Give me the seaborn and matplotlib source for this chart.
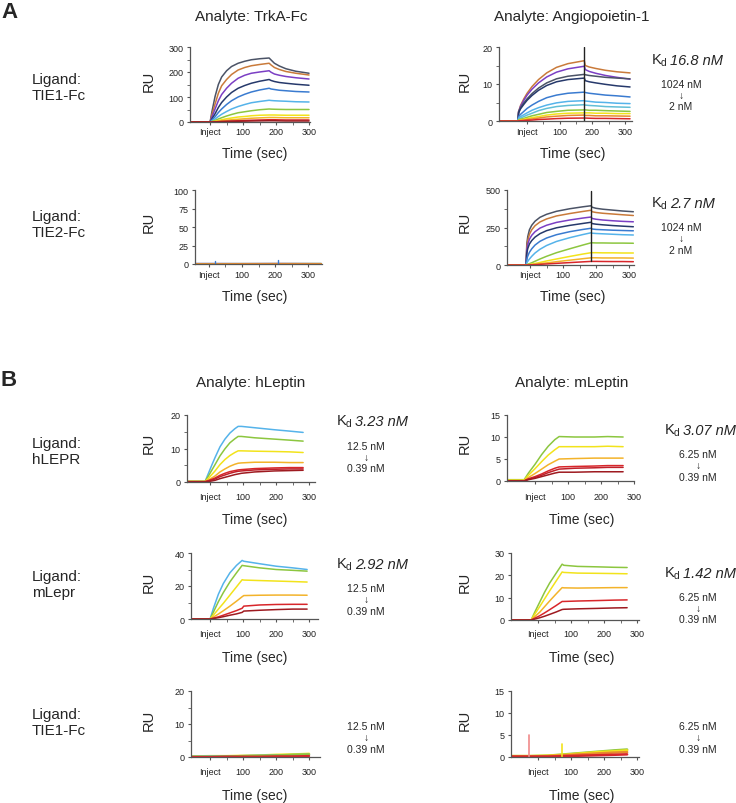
import matplotlib
matplotlib.use("Agg")
import matplotlib.pyplot as plt
import seaborn as sns

# ---------------- data ----------------
# A: TIE1-Fc ligand / TrkA-Fc analyte (1024 -> 2 nM)
t_a1 = [-61, 0, 5, 10, 15, 25, 35, 50, 65, 85, 105, 125, 150, 179,
        185, 195, 210, 230, 260, 300]
a1_curves = [
    [0, 0, 38, 70, 102, 150, 180, 205, 222, 235, 243, 249, 253, 256, 248, 235, 224, 213, 203, 195],
    [0, 0, 27, 50, 72, 115, 145, 170, 190, 208, 218, 225, 230, 235, 228, 218, 210, 202, 195, 188],
    [0, 0, 18, 35, 52, 85, 110, 135, 155, 175, 187, 195, 200, 205, 199, 192, 187, 182, 177, 172],
    [0, 0, 11, 22, 33, 58, 78, 100, 118, 135, 146, 155, 163, 170, 166, 162, 158, 155, 151, 147],
    [0, 0, 7, 14, 21, 38, 52, 70, 85, 100, 111, 120, 128, 135, 132, 130, 127, 125, 122, 120],
    [0, 0, 4, 8, 12, 22, 31, 42, 52, 62, 70, 77, 82, 87, 86, 85, 84, 83, 81, 80],
    [0, 0, 2, 4, 6, 12, 17, 24, 30, 37, 41, 45, 49, 52, 51.5, 51, 50.5, 50, 50, 50],
    [0, 0, 1, 2, 3, 6, 9, 13, 16, 20, 22, 25, 27, 28, 28, 28, 27.5, 27, 27, 27],
    [0, 0, 0.5, 1, 1.5, 3, 5, 7, 9, 11, 13, 15, 16.5, 18, 18, 18, 17.5, 17, 17, 17],
    [0, 0, 0.2, 0.5, 0.8, 1.5, 2.2, 3, 4, 5, 6, 7, 8, 9, 9, 9, 8.5, 8, 8, 8],
    [0, 0, 0.1, 0.3, 0.5, 1, 1.4, 2, 2.5, 3, 3.5, 4, 4.5, 5, 5, 5, 4.5, 4, 4, 4],
]

# A: TIE1-Fc ligand / Angiopoietin-1 analyte
t_a2 = [-86, -28, -26, -20, -10, 0, 15, 35, 60, 90, 125, 175,
        178, 190, 210, 240, 275, 315]
a2_curves = [
    [0, 0, 2.5, 4.2, 6.0, 7.5, 9.3, 11.2, 13.0, 14.5, 15.5, 16.3, 15.0, 14.6, 14.2, 13.7, 13.3, 13.0],
    [0, 0, 2.5, 4.0, 5.6, 7.0, 8.6, 10.3, 11.9, 13.2, 14.1, 14.8, 13.9, 13.4, 12.9, 12.3, 11.8, 11.3],
    [0, 0, 2.5, 3.6, 4.9, 6.0, 7.4, 8.9, 10.3, 11.4, 12.1, 12.6, 12.5, 12.3, 12.1, 11.8, 11.6, 11.4],
    [0, 0, 2.2, 3.3, 4.5, 5.6, 6.9, 8.3, 9.6, 10.6, 11.2, 11.6, 10.9, 10.6, 10.3, 9.9, 9.5, 9.2],
    [0, 0, 1.2, 1.8, 2.6, 3.4, 4.3, 5.3, 6.3, 7.0, 7.5, 7.8, 7.7, 7.5, 7.3, 7.0, 6.8, 6.5],
    [0, 0, 0.8, 1.2, 1.7, 2.2, 2.9, 3.6, 4.3, 4.9, 5.3, 5.5, 5.4, 5.3, 5.1, 5.0, 4.8, 4.7],
    [0, 0, 0.5, 0.8, 1.2, 1.6, 2.1, 2.8, 3.4, 3.9, 4.2, 4.4, 4.3, 4.2, 4.1, 3.9, 3.8, 3.7],
    [0, 0, 0.3, 0.5, 0.7, 1.0, 1.4, 1.8, 2.3, 2.6, 2.9, 3.0, 3.0, 2.9, 2.9, 2.8, 2.7, 2.6],
    [0, 0, 0.15, 0.3, 0.45, 0.65, 0.9, 1.2, 1.6, 1.9, 2.1, 2.2, 2.2, 2.2, 2.1, 2.1, 2.0, 2.0],
    [0, 0, 0.1, 0.15, 0.25, 0.4, 0.55, 0.8, 1.1, 1.3, 1.5, 1.6, 1.5, 1.5, 1.4, 1.4, 1.35, 1.3],
    [0, 0, 0.05, 0.07, 0.1, 0.18, 0.25, 0.4, 0.5, 0.65, 0.75, 0.8, 0.8, 0.75, 0.7, 0.7, 0.65, 0.6],
]
a2_spike_t, a2_spike_lo, a2_spike_hi = 175, 0, 20

# A: TIE2-Fc ligand / TrkA-Fc analyte (no binding)
t_a3 = [-42, 18, 100, 210, 340]
a3_curves = [
    [0.6, 0.6, 0.5, 0.6, 0.5],
    [0.4, 0.4, 0.4, 0.5, 0.4],
    [0.3, 0.3, 0.4, 0.4, 0.5],
    [0.2, 0.2, 0.3, 0.3, 0.3],
]
a3_spike_t = [18, 210]
a3_spike_h = [4, 5]

# A: TIE2-Fc ligand / Angiopoietin-1 analyte
t_a4 = [-70, -12, -10, -7, -2, 5, 15, 30, 50, 80, 120, 160, 185,
        188, 200, 220, 250, 280, 313]
a4_curves = [
    [0, 0, 140, 190, 235, 265, 292, 318, 338, 358, 375, 388, 395, 385, 378, 372, 366, 360, 355],
    [0, 0, 120, 165, 205, 235, 262, 287, 307, 327, 343, 357, 365, 355, 350, 345, 340, 335, 330],
    [0, 0, 100, 138, 172, 198, 222, 246, 265, 284, 300, 313, 320, 310, 305, 300, 295, 291, 288],
    [0, 0, 80, 110, 140, 163, 186, 209, 229, 248, 264, 277, 285, 276, 272, 268, 263, 259, 255],
    [0, 0, 40, 60, 85, 108, 133, 158, 180, 202, 222, 237, 245, 240, 237, 235, 232, 230, 228],
    [0, 0, 15, 25, 40, 58, 80, 105, 130, 157, 182, 203, 215, 212, 210, 208, 205, 202, 200],
    [0, 0, 3, 5, 9, 15, 25, 40, 58, 82, 108, 133, 148, 148, 147, 147, 146, 146, 145],
    [0, 0, 1, 2, 3, 6, 10, 17, 27, 40, 57, 73, 82, 82, 82, 81, 81, 80, 80],
    [0, 0, 0.5, 1, 2, 3, 5, 9, 14, 22, 32, 42, 48, 48, 48, 47, 47, 47, 46],
    [0, 0, 0.3, 0.5, 1, 1.5, 2.5, 4.5, 7, 11, 16, 21, 24, 24, 24, 23.5, 23, 23, 22],
]
a4_spike_t, a4_spike_lo, a4_spike_hi = 185, 30, 495

# B: hLEPR ligand / hLeptin analyte (12.5 -> 0.39 nM)
t_b1 = [-70, -15, -5, 5, 15, 30, 45, 60, 75, 85, 95, 135, 195, 240, 282]
b1_curves = [
    [0.2, 0.2, 2.6, 5, 7.3, 10.5, 12.8, 14.6, 15.9, 16.6, 16.6, 16.2, 15.6, 15.2, 14.8],
    [0.2, 0.2, 1.8, 3.5, 5.2, 7.8, 9.9, 11.7, 12.9, 13.6, 13.6, 13.2, 12.8, 12.5, 12.2],
    [0.2, 0.2, 1.1, 2.2, 3.3, 5.2, 6.7, 7.9, 8.8, 9.3, 9.3, 9.2, 9.1, 9.0, 8.8],
    [0.1, 0.1, 0.6, 1.2, 1.8, 3.0, 3.9, 4.7, 5.3, 5.6, 5.7, 5.9, 5.9, 5.8, 5.8],
    [0.1, 0.1, 0.4, 0.8, 1.2, 2.0, 2.6, 3.1, 3.4, 3.6, 3.7, 4.0, 4.2, 4.3, 4.3],
    [0.1, 0.1, 0.3, 0.6, 0.9, 1.6, 2.1, 2.6, 3.0, 3.2, 3.3, 3.6, 3.8, 3.9, 3.9],
    [0, 0, 0.15, 0.3, 0.5, 1.0, 1.4, 1.8, 2.2, 2.4, 2.6, 3.0, 3.3, 3.4, 3.5],
]

# B: hLEPR ligand / mLeptin analyte (6.25 -> 0.39 nM)
t_b2 = [-85, -33, -20, 0, 20, 40, 60, 73, 120, 180, 220, 267]
b2_curves = [
    [0.3, 0.3, 1.8, 3.8, 6.0, 7.9, 9.4, 10.1, 10.0, 10.0, 10.1, 10.0],
    [0.2, 0.2, 1.3, 2.8, 4.4, 5.9, 7.1, 7.8, 7.8, 7.8, 7.9, 7.8],
    [0.1, 0.1, 0.8, 1.7, 2.7, 3.7, 4.5, 5.0, 5.1, 5.2, 5.2, 5.2],
    [0.05, 0.05, 0.5, 1.0, 1.6, 2.3, 2.9, 3.2, 3.3, 3.4, 3.5, 3.5],
    [0, 0, 0.4, 0.8, 1.3, 1.9, 2.4, 2.7, 2.9, 3.0, 3.1, 3.1],
    [0, 0, 0.3, 0.6, 1.0, 1.4, 1.8, 2.0, 2.0, 2.1, 2.1, 2.1],
]

# B: mLepr ligand / hLeptin analyte
t_b3 = [-58, 0, 10, 25, 40, 60, 80, 97, 102, 150, 200, 250, 294]
b3_curves = [
    [0, 0, 6.5, 15, 21.5, 28, 32.5, 35.5, 35, 33.5, 32, 31, 30],
    [0, 0, 4.2, 10.5, 16, 22.5, 28, 32.5, 32.3, 31, 30, 29.5, 29],
    [0, 0, 2.4, 6, 9.5, 14.5, 19.5, 23.8, 23.6, 23.3, 23, 22.7, 22.4],
    [0, 0, 1.2, 3, 5, 7.8, 10.8, 13.5, 14.2, 14.4, 14.5, 14.5, 14.4],
    [0, 0, 0.5, 1.3, 2.3, 3.7, 5.1, 6.5, 7.8, 8.5, 8.8, 8.9, 8.9],
    [0, 0, 0.3, 0.8, 1.4, 2.3, 3.1, 4, 4.8, 5.3, 5.7, 6, 6.0],
]

# B: mLepr ligand / mLeptin analyte
t_b4 = [-82, -21, -10, 5, 20, 35, 55, 73, 78, 120, 180, 230, 270]
b4_curves = [
    [0, 0, 3.5, 8, 12.5, 16.5, 21, 25, 24.5, 24, 23.8, 23.6, 23.5],
    [0, 0, 2.6, 6, 9.5, 13, 17.5, 21.5, 21.3, 21, 20.9, 20.8, 20.7],
    [0, 0, 1.5, 3.5, 6, 8.5, 11.7, 14.5, 14.4, 14.3, 14.4, 14.5, 14.5],
    [0, 0, 0.8, 1.9, 3.2, 4.6, 6.5, 8.3, 8.3, 8.5, 8.7, 8.9, 9.0],
    [0, 0, 0.4, 1.0, 1.7, 2.5, 3.6, 4.7, 4.8, 5.0, 5.2, 5.4, 5.5],
]

# B: TIE1-Fc ligand / hLeptin analyte (no binding)
t_b5 = [-58, 0, 50, 100, 150, 200, 250, 300]
b5_curves = [
    [0.2, 0.3, 0.3, 0.4, 0.5, 0.7, 0.8, 1.0],
    [0.1, 0.2, 0.2, 0.3, 0.4, 0.5, 0.6, 0.7],
    [0.1, 0.1, 0.2, 0.3, 0.4, 0.5, 0.7, 0.8],
    [0, 0, 0.1, 0.1, 0.1, 0.2, 0.2, 0.3],
]

# B: TIE1-Fc ligand / mLeptin analyte (no binding)
t_b6 = [-82, -27, 30, 80, 130, 180, 230, 270]
b6_curves = [
    [0.2, 0.2, 0.3, 0.6, 0.9, 1.2, 1.5, 1.7],
    [0.2, 0.2, 0.3, 0.5, 0.8, 1.1, 1.3, 1.5],
    [0.1, 0.1, 0.2, 0.4, 0.6, 0.8, 1.0, 1.1],
    [0.1, 0.1, 0.1, 0.2, 0.3, 0.4, 0.5, 0.6],
]
b6_spike_t = [-27, 73]
b6_spike_h = [5, 3]

xtick_vals = [0, 100, 200, 300]
xtick_text = ["Inject", "100", "200", "300"]

kd_values = ["16.8 nM", "2.7 nM", "3.23 nM", "3.07 nM", "2.92 nM", "1.42 nM"]

# ---------------- colours ----------------
SLATE, BROWN, PURPLE, NAVY = "#4b5366", "#c97a3a", "#7b3fc4", "#26396b"
BLUE, LBLUE, CYAN, GREEN = "#3a7bd0", "#55b3ea", "#62bfd6", "#8cc63f"
YELLOW, GOLD, ORANGE, RED, DRED = "#f2e31b", "#f3b32a", "#e8892f", "#d8262a", "#9e1a20"
CRIM = "#c0202a"

a1_colors = [SLATE, BROWN, PURPLE, NAVY, BLUE, LBLUE, GREEN, YELLOW, GOLD, RED, DRED]
a2_colors = [BROWN, PURPLE, SLATE, NAVY, BLUE, LBLUE, CYAN, GREEN, YELLOW, ORANGE, RED]
a3_colors = [BLUE, RED, GREEN, ORANGE]
a4_colors = [SLATE, BROWN, PURPLE, NAVY, BLUE, LBLUE, GREEN, YELLOW, GOLD, RED]
b1_colors = [LBLUE, GREEN, YELLOW, GOLD, RED, CRIM, DRED]
b2_colors = [GREEN, YELLOW, GOLD, RED, CRIM, DRED]
b3_colors = [LBLUE, GREEN, YELLOW, GOLD, RED, DRED]
b4_colors = [GREEN, YELLOW, GOLD, RED, DRED]
b5_colors = [YELLOW, LBLUE, GREEN, RED]
b6_colors = [GREEN, YELLOW, ORANGE, RED]

# ---------------- figure ----------------
sns.set_theme(style="ticks")
plt.rcParams["font.family"] = ["Liberation Sans", "DejaVu Sans"]
plt.rcParams["mathtext.fontset"] = "custom"
plt.rcParams["mathtext.rm"] = "Liberation Sans"
plt.rcParams["mathtext.it"] = "Liberation Sans:italic"

W, H = 736, 804
fig = plt.figure(figsize=(W / 100, H / 100), dpi=100)
fig.patch.set_facecolor("white")


def ftxt(x, y, s, **kw):
    kw.setdefault("ha", "center")
    kw.setdefault("va", "center")
    fig.text(x / W, 1 - y / H, s, **kw)


def panel(box, xlim, ylim, yticks, ymin, t, curves, colors, lw=1.1, pad=1.0):
    l, top, r, b = box
    ax = fig.add_axes([l / W, 1 - b / H, (r - l) / W, (b - top) / H])
    for ys, c in zip(curves, colors):
        sns.lineplot(x=t, y=ys, color=c, lw=lw, ax=ax, estimator=None, sort=False)
    ax.set_xlim(*xlim)
    ax.set_ylim(*ylim)
    ax.set_yticks(yticks)
    ax.set_yticks(ymin, minor=True)
    ax.set_xticks(xtick_vals)
    ax.set_xticklabels(xtick_text)
    ax.set_xticks([50, 150, 250], minor=True)
    ax.set_xlabel("")
    ax.set_ylabel("")
    sns.despine(ax=ax)
    for s in ("left", "bottom"):
        ax.spines[s].set_color("#555555")
        ax.spines[s].set_linewidth(0.9)
    ax.tick_params(axis="both", which="major", labelsize=6.5, colors="#555555",
                   labelcolor="#222222", width=0.8, length=2.5)
    ax.tick_params(axis="y", which="major", pad=2)
    ax.tick_params(axis="x", which="major", pad=pad)
    ax.tick_params(axis="both", which="minor", length=2, width=0.6, colors="#555555")
    ax.patch.set_alpha(0)
    return ax


def kd(x, y, value):
    # "K" with subscript d, then the value in italics
    ftxt(x, y, r"K$_\mathregular{d}$", ha="left", fontsize=10.5)
    ftxt(x + 19, y, value, ha="left", fontsize=10.5, fontstyle="italic")


def conc(x, y0, hi, lo, gap=11.5):
    ftxt(x, y0, hi, fontsize=7.5)
    ftxt(x, y0 + gap, "\u2193", fontsize=7.5)
    ftxt(x, y0 + 2 * gap, lo, fontsize=7.5)


# ---- panel A ----
panel((190, 48, 310, 123), (-61, 303), (0, 300), [0, 100, 200, 300], [50, 150, 250],
      t_a1, a1_curves, a1_colors)
ax = panel((499, 48, 632, 122), (-86, 321), (0, 20), [0, 10, 20], [5, 15],
           t_a2, a2_curves, a2_colors, pad=2)
sns.lineplot(x=[a2_spike_t, a2_spike_t], y=[a2_spike_lo, a2_spike_hi], color="#222222",
             lw=1.0, ax=ax, estimator=None, sort=False)
ax = panel((195, 191, 322, 265), (-42, 342), (0, 100), [0, 25, 50, 75, 100], [],
           t_a3, a3_curves, a3_colors, pad=2)
for st, sh in zip(a3_spike_t, a3_spike_h):
    sns.lineplot(x=[st, st], y=[0, sh], color=BLUE, lw=1.0, ax=ax, estimator=None, sort=False)
ax = panel((507, 191, 634, 266), (-70, 315), (0, 500), [0, 250, 500], [125, 375],
           t_a4, a4_curves, a4_colors)
sns.lineplot(x=[a4_spike_t, a4_spike_t], y=[a4_spike_lo, a4_spike_hi], color="#222222",
             lw=1.0, ax=ax, estimator=None, sort=False)

# ---- panel B ----
panel((187, 416, 315, 483), (-70, 318), (0, 20), [0, 10, 20], [5, 15],
      t_b1, b1_curves, b1_colors, pad=5)
panel((507, 416, 634, 482), (-85, 300), (0, 15), [0, 5, 10, 15], [],
      t_b2, b2_curves, b2_colors, pad=5.5)
panel((191, 554, 318, 620), (-58, 327), (0, 40), [0, 20, 40], [10, 30],
      t_b3, b3_curves, b3_colors, pad=5)
panel((511, 554, 639, 621), (-82, 306), (0, 30), [0, 10, 20, 30], [],
      t_b4, b4_curves, b4_colors, pad=4)
panel((191, 692, 320, 758), (-58, 333), (0, 20), [0, 10, 20], [5, 15],
      t_b5, b5_curves, b5_colors, lw=1.6, pad=5)
ax = panel((511, 692, 639, 758), (-82, 306), (0, 15), [0, 5, 10, 15], [],
           t_b6, b6_curves, b6_colors, lw=1.8, pad=4.5)
for st, sh, c in zip(b6_spike_t, b6_spike_h, ["#f08a8a", YELLOW]):
    sns.lineplot(x=[st, st], y=[0, sh], color=c, lw=1.2, ax=ax, estimator=None, sort=False)

# ---- text ----
ftxt(1, 12, "A", ha="left", fontsize=16, fontweight="bold")
ftxt(1, 381, "B", ha="left", fontsize=16, fontweight="bold")

ftxt(251, 17, "Analyte: TrkA-Fc", fontsize=11)
ftxt(572, 17, "Analyte: Angiopoietin-1", fontsize=11)
ftxt(251, 383, "Analyte: hLeptin", fontsize=11)
ftxt(572, 383, "Analyte: mLeptin", fontsize=11)

for y, lig in [(88, "TIE1-Fc"), (225, "TIE2-Fc"), (452, "hLEPR"), (585, "mLepr"), (723, "TIE1-Fc")]:
    ftxt(32, y, "Ligand:\n" + lig, ha="left", fontsize=11, linespacing=1.2)

for x, y in [(149, 81), (465, 81), (149, 222), (465, 222), (149, 443), (465, 443),
             (149, 582), (465, 582), (149, 720), (465, 720)]:
    ftxt(x, y, "RU", fontsize=10.5, rotation=90)

for y in [154, 297]:
    ftxt(255, y, "Time (sec)", fontsize=10)
    ftxt(573, y, "Time (sec)", fontsize=10)
for y in [520, 658, 796]:
    ftxt(255, y, "Time (sec)", fontsize=10)
    ftxt(582, y, "Time (sec)", fontsize=10)

for (x, y), v in zip([(651, 61), (651, 204), (336, 422), (664, 431), (336, 565), (664, 574)],
                     kd_values):
    kd(x, y, v)

conc(681, 85, "1024 nM", "2 nM", gap=11)
conc(681, 228, "1024 nM", "2 nM", gap=11.5)
conc(366, 447, "12.5 nM", "0.39 nM", gap=11)
conc(698, 455, "6.25 nM", "0.39 nM", gap=11.5)
conc(366, 589, "12.5 nM", "0.39 nM", gap=11.5)
conc(698, 598, "6.25 nM", "0.39 nM", gap=11)
conc(366, 727, "12.5 nM", "0.39 nM", gap=11.5)
conc(698, 727, "6.25 nM", "0.39 nM", gap=11.5)

fig.savefig("out.png", dpi=100, facecolor="white")
